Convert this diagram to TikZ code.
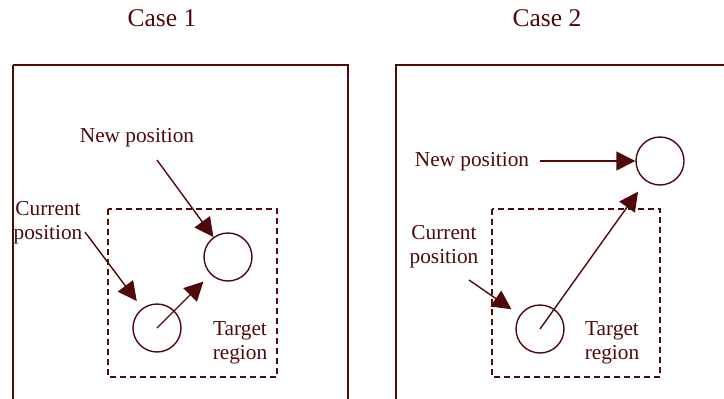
\documentclass[tikz,border=0pt]{standalone}
\usepackage{fontspec}
\setmainfont{Liberation Serif}
\usetikzlibrary{arrows.meta}
\definecolor{maroon}{RGB}{78,10,10}
\tikzset{
  frame/.style={draw=maroon,line width=1.6pt},
  target/.style={draw=maroon,line width=1.3pt,dash pattern=on 6pt off 4pt},
  spot/.style={circle,draw=maroon,line width=1.4pt,minimum size=48pt,inner sep=0pt},
  lab/.style={text=maroon,font=\fontsize{21.3}{24}\selectfont,inner sep=0pt,align=center},
  ttl/.style={text=maroon,font=\fontsize{25.5}{28}\selectfont,inner sep=0pt},
  arr/.style={draw=maroon,line width=1.4pt,-{Triangle[length=19pt,width=19pt]}}
}
\begin{document}
\begin{tikzpicture}[x=1pt,y=-1pt]
\useasboundingbox (0,0) rectangle (724,399);
\clip (0,0) rectangle (724,399);
% titles
\node[ttl] (t1) at (162,18) {Case 1};
\node[ttl] (t2) at (547,18) {Case 2};
% frames
\draw[frame] (13,65) -- (348,65) -- (348,410);
\draw[frame] (13,65) -- (13,410);
\draw[frame] (396,410) -- (396,65) -- (730,65);
% target regions
\draw[target] (108,209) rectangle (277,377);
\draw[target] (492,209) rectangle (660,377);
% Case 1
\node[spot] (new1) at (228,257) {};
\node[spot] (cur1) at (157,328) {};
\node[lab] (nl1) at (137,138) {New position};
\node[lab] (cl1) at (48,223) {Current\\position};
\node[lab] (tl1) at (240,343) {Target\\region};
\coordinate (ns1) at (157,160);
\coordinate (cs1) at (85,232);
\draw[arr] (ns1) -- (new1);
\draw[arr,shorten >=9pt] (cs1) -- (cur1);
\draw[arr,shorten >=10pt] (cur1.center) -- (new1);
% Case 2
\node[spot] (new2) at (660,161) {};
\node[spot] (cur2) at (540,329) {};
\node[lab] (nl2) at (472,162) {New position};
\node[lab] (cl2) at (444,247) {Current\\position};
\node[lab] (tl2) at (612,343) {Target\\region};
\coordinate (ns2) at (540,161);
\coordinate (cs2) at (469,280);
\draw[arr] (ns2) -- (new2);
\draw[arr,shorten >=10pt] (cs2) -- (cur2);
\draw[arr,shorten >=13pt] (cur2.center) -- (new2);
\end{tikzpicture}
\end{document}
